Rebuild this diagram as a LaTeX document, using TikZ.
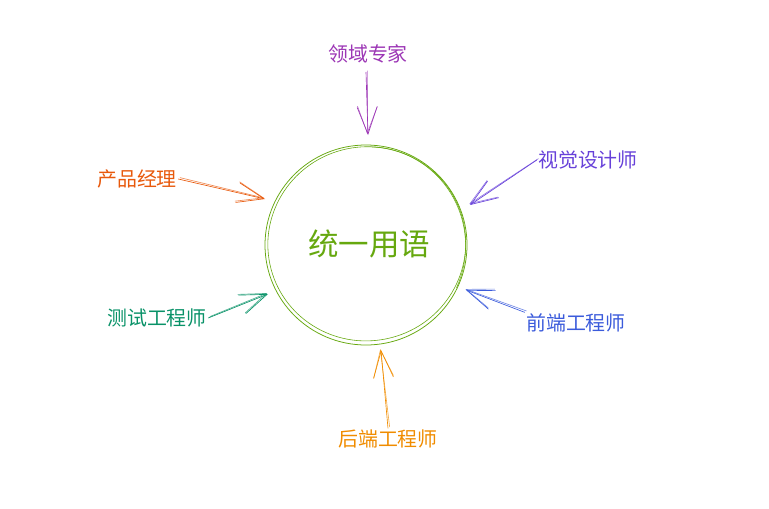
\documentclass[tikz,border=0pt]{standalone}
\usepackage{fontspec}
\setmainfont{Noto Sans CJK SC}
\usepackage{xcolor}
\usetikzlibrary{arrows.meta}
\definecolor{termgreen}{HTML}{66A80F}
\definecolor{expertpurple}{HTML}{9C36B5}
\definecolor{pmorange}{HTML}{E8590C}
\definecolor{designviolet}{HTML}{6741D9}
\definecolor{qateal}{HTML}{099268}
\definecolor{feblue}{HTML}{3B5BDB}
\definecolor{beorange}{HTML}{F08C00}

\begin{document}
\begin{tikzpicture}[x=0.03cm,y=-0.03cm,
  role/.style={font=\fontsize{17}{20}\selectfont,inner sep=1pt},
  sketch/.style={line width=0.55pt,-{Straight Barb[length=23pt,width=17pt,line width=0.55pt]}}]
\useasboundingbox (0,0) rectangle (769,508);
% central term, drawn as a rough circle
\node[font=\fontsize{26}{30}\selectfont,text=termgreen] (term) at (369,244) {统一用语};
\draw[termgreen,line width=0.65pt] (366,245) ellipse [x radius=101, y radius=100];
\draw[termgreen,line width=0.5pt,rotate around={12:(366,245)}] (367,244) ellipse [x radius=99, y radius=97];
\draw[termgreen,line width=0.45pt] (372,147) arc[start angle=-88,end angle=25,x radius=97,y radius=99];
% roles
\node[role,text=expertpurple] (expert) at (368,54) {领域专家};
\node[role,text=pmorange] (pm) at (137,179) {产品经理};
\node[role,text=designviolet] (design) at (588,160) {视觉设计师};
\node[role,text=qateal] (qa) at (157,318) {测试工程师};
\node[role,text=feblue] (fe) at (576,323) {前端工程师};
\node[role,text=beorange] (be) at (388,439) {后端工程师};
% arrow tips on the circle
\coordinate (expert-tip) at (368,135);
\coordinate (pm-tip) at (265,199);
\coordinate (design-tip) at (470,205);
\coordinate (qa-tip) at (268,294);
\coordinate (fe-tip) at (466,290);
\coordinate (be-tip) at (381,350);
\coordinate (expert-from) at (366,72);
% connectors, each stroked twice for the sketchy look
\foreach \src/\dst/\col in {expert-from/expert-tip/expertpurple,
    pm.east/pm-tip/pmorange, design.west/design-tip/designviolet,
    qa.east/qa-tip/qateal, fe.north west/fe-tip/feblue, be.north/be-tip/beorange}{
  \draw[sketch,\col] (\src) -- (\dst);
  \draw[sketch,\col,opacity=0.7] ([shift={(1.4pt,1.2pt)}]\src) -- ([shift={(-0.6pt,0.8pt)}]\dst);
}
\end{tikzpicture}
\end{document}
